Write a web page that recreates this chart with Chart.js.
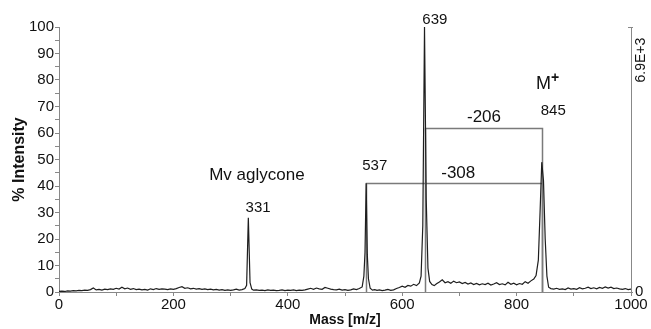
<!DOCTYPE html>
<html><head><meta charset="utf-8">
<script src="https://cdn.jsdelivr.net/npm/chart.js@4.4.0/dist/chart.umd.min.js"></script>
<style>html,body{margin:0;padding:0;background:#fff;}#wrap{width:651px;height:329px;}</style>
</head><body><div id="wrap"><canvas id="c" width="651" height="329"></canvas></div>
<script>
// m/z positions of the sampled spectrum
const mass = [0,5,10,15,20,25,30,35,40,45,50,55,60,65,70,75,80,85,90,95,100,105,110,115,120,125,130,135,140,145,150,155,160,165,170,175,180,185,190,195,200,205,210,215,220,225,230,235,240,245,250,255,260,265,270,275,280,285,290,295,300,305,310,315,320,325,328,331,334,337,340,345,350,355,360,365,370,375,380,385,390,395,400,405,410,415,420,425,430,435,440,445,450,455,460,465,470,475,480,485,490,495,500,505,510,515,520,525,530,533,535,537,539,541,544,548,552,556,560,565,570,575,580,585,590,595,600,605,610,615,620,625,630,633,636,639,642,645,648,652,656,660,665,670,675,680,685,690,695,700,705,710,715,720,725,730,735,740,745,750,755,760,765,770,775,780,785,790,795,800,805,810,815,820,825,830,834,838,841,844,847,850,853,856,860,865,870,875,880,885,890,895,900,905,910,915,920,925,930,935,940,945,950,955,960,965,970,975,980,985,990,995,1000];
// % intensity
const intensity = [0.2,0.3,0.2,0.4,0.3,0.5,0.4,0.6,0.5,0.7,0.6,0.9,1.5,0.8,1.0,0.7,1.1,0.9,1.2,1.0,1.4,1.1,1.8,1.2,1.5,1.0,1.3,0.9,1.1,0.8,1.0,0.7,1.2,0.9,1.3,1.0,1.2,1.1,0.9,1.2,1.0,1.3,1.7,2.0,1.4,1.6,1.2,1.4,1.1,1.3,1.0,1.2,0.9,1.1,0.8,1.0,0.7,0.9,0.6,0.8,0.6,0.8,1.1,0.7,0.9,1.3,2.5,28,3.5,1.1,0.7,0.8,0.6,0.7,0.5,0.8,0.6,0.7,0.5,0.6,0.8,0.5,0.7,0.6,0.8,0.5,0.7,0.6,0.8,1.1,1.4,1.0,1.5,1.2,1.0,1.7,1.4,1.1,0.9,0.8,1.1,0.7,0.9,0.6,0.8,1.2,0.9,1.3,1.9,6,15,41,14,5,1.4,0.7,0.9,0.6,0.8,0.5,0.7,1.0,0.6,0.8,1.3,1.7,2.2,1.8,2.5,2.2,2.9,2.4,3.4,6,25,100,35,9,4,2.8,2.4,3.1,3.8,4.6,3.5,3.9,3.3,4.1,3.5,3.8,3.2,3.6,3.0,3.4,2.8,3.2,2.7,3.1,2.8,3.3,2.6,3.0,3.5,2.8,3.1,2.7,3.7,2.9,3.3,2.7,3.2,2.9,3.9,3.3,4.2,4.9,6.2,12,30,49,42,20,6,1.8,1.3,1.1,1.4,1.0,1.2,0.9,1.5,1.1,1.3,1.0,1.6,1.2,1.4,1.8,1.3,1.6,1.2,1.7,1.4,1.9,1.5,1.8,1.3,1.5,1.2,1.0,1.3,0.9,1.1];

const xMajor = [0,200,400,600,800,1000];
const yMajor = [0,10,20,30,40,50,60,70,80,90,100];

// peak labels: text, m/z anchor, intensity anchor
const labelText = ['639','845','537','331'];
const labelMass = [657,864,552,348];
const labelInt  = [102.8,68.5,47.5,31.6];

// mass-difference brackets
const bracketFrom = [537,639];
const bracketTo   = [845,845];
const bracketLevel= [41,62];
const bracketText = ['-308','-206'];
const bracketTextMass = [698,743];
const bracketTextInt  = [44.8,66.1];

const FONT = "'Liberation Sans', Arial, sans-serif";

const annot = {
  id:'annot',
  beforeDatasetsDraw(chart){
    const {ctx, scales:{x,y}} = chart;
    ctx.save();
    ctx.strokeStyle = '#7a7a7a';
    ctx.lineWidth = 1.5;
    for (let i=0;i<bracketFrom.length;i++){
      const yl = Math.round(y.getPixelForValue(bracketLevel[i]))+0.5;
      const x1 = Math.round(x.getPixelForValue(bracketFrom[i]))+0.5;
      const x2 = Math.round(x.getPixelForValue(bracketTo[i]))+0.5;
      ctx.beginPath();
      ctx.moveTo(x1, y.getPixelForValue(0)); ctx.lineTo(x1, yl);
      ctx.lineTo(x2, yl); ctx.lineTo(x2, y.getPixelForValue(0));
      ctx.stroke();
    }
    ctx.restore();
  },
  afterDraw(chart){
    const {ctx, scales:{x,y}, chartArea} = chart;
    ctx.save();
    ctx.fillStyle = '#111';
    ctx.textAlign='center'; ctx.textBaseline='middle';
    ctx.font = '15px '+FONT;
    for (let i=0;i<labelText.length;i++){
      ctx.fillText(labelText[i], x.getPixelForValue(labelMass[i]), y.getPixelForValue(labelInt[i]));
    }
    ctx.font = '17px '+FONT;
    for (let i=0;i<bracketText.length;i++){
      ctx.fillText(bracketText[i], x.getPixelForValue(bracketTextMass[i]), y.getPixelForValue(bracketTextInt[i]));
    }
    ctx.fillText('Mv aglycone', x.getPixelForValue(346), y.getPixelForValue(44.1));
    // M+ with superscript
    ctx.font = '18px '+FONT;
    const mx = x.getPixelForValue(860), my = y.getPixelForValue(78.5);
    ctx.textAlign='right';
    ctx.fillText('M', mx, my);
    ctx.textAlign='left';
    ctx.font = 'bold 14px '+FONT;
    ctx.fillText('+', mx, my-6);
    // right axis scale label
    ctx.font = '14px '+FONT;
    ctx.textAlign='center';
    ctx.translate(chartArea.right+10, y.getPixelForValue(87.5));
    ctx.rotate(-Math.PI/2);
    ctx.fillText('6.9E+3', 0, 0);
    ctx.restore();
    // small top tick on right axis
    ctx.save();
    ctx.strokeStyle='#888'; ctx.lineWidth=1;
    ctx.beginPath();
    ctx.moveTo(chartArea.right-3, Math.round(chartArea.top)+0.5);
    ctx.lineTo(chartArea.right, Math.round(chartArea.top)+0.5);
    ctx.stroke();
    ctx.restore();
  }
};

new Chart(document.getElementById('c'), {
  type:'line',
  data:{ datasets:[{
    data: mass.map((m,i)=>({x:m,y:intensity[i]})),
    borderColor:'#1e1e1e', borderWidth:1.2, pointRadius:0, tension:0, fill:false
  }]},
  options:{
    responsive:false, animation:false, devicePixelRatio:1,
    layout:{padding:{top:27,left:10,right:0,bottom:0}},
    plugins:{legend:{display:false}, tooltip:{enabled:false}},
    scales:{
      x:{type:'linear', min:0, max:1000,
        afterFit(s){ s.height = 37; },
        ticks:{stepSize:100, autoSkip:false, maxRotation:0, padding:0,
          callback:v=> xMajor.includes(v)? String(v):'',
          color:'#111', font:{family:FONT,size:15}},
        grid:{drawOnChartArea:false, drawTicks:true, tickLength:4, color:'#888'},
        border:{color:'#888', width:1},
        title:{display:true, text:'Mass [m/z]', color:'#111', font:{family:FONT,size:14,weight:'bold'}, padding:{top:0,bottom:0}}
      },
      y:{min:0, max:100, position:'left',
        afterFit(s){ s.width = 49; },
        ticks:{stepSize:5, autoSkip:false, padding:1,
          callback:v=> yMajor.includes(v)? String(v):'',
          color:'#111', font:{family:FONT,size:15}},
        grid:{drawOnChartArea:false, drawTicks:true, tickLength:4, color:'#888'},
        border:{color:'#888', width:1},
        title:{display:true, text:'% Intensity', color:'#111', font:{family:FONT,size:16,weight:'bold'}, padding:{top:0,bottom:0}}
      },
      y2:{min:0, max:100, position:'right',
        afterFit(s){ s.width = 20; },
        ticks:{stepSize:100, padding:2, callback:v=> v===0?'0':'', color:'#111', font:{family:FONT,size:15}},
        grid:{drawOnChartArea:false, drawTicks:true, tickLength:2, color:'#888'},
        border:{color:'#888', width:1}
      }
    }
  },
  plugins:[annot]
});
</script></body></html>
